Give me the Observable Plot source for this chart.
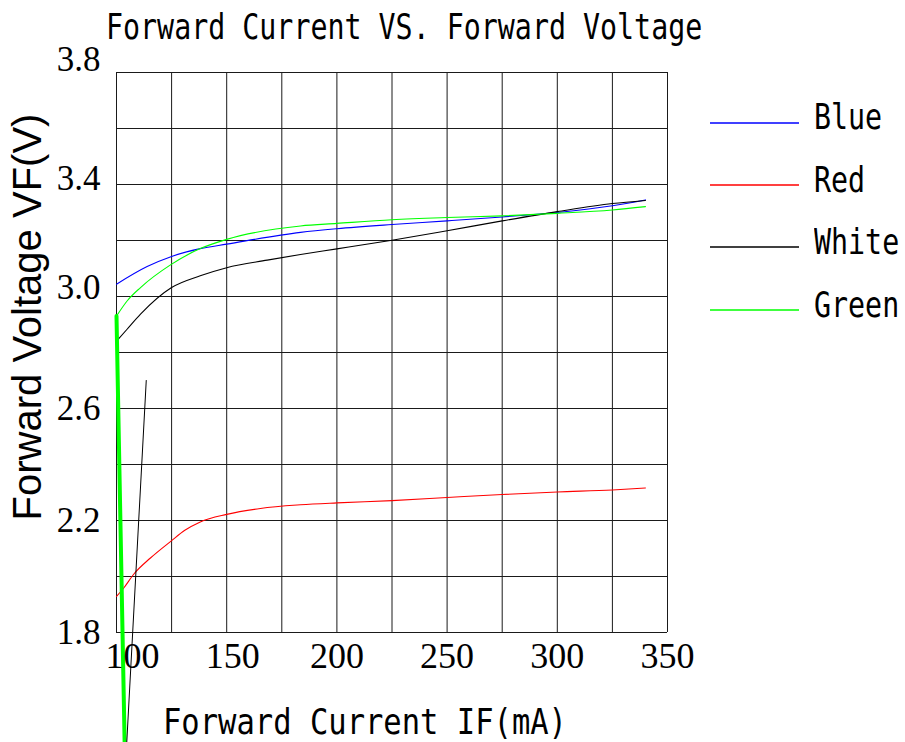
<!DOCTYPE html>
<html>
<head>
<meta charset="utf-8">
<script src="https://cdn.jsdelivr.net/npm/d3@7"></script>
<script src="https://cdn.jsdelivr.net/npm/@observablehq/plot@0.6"></script>
<style>
  body { margin: 0; background: #fff; }
  #wrap { position: relative; width: 905px; height: 742px; overflow: hidden; background: #fff; }
  #chart { position: absolute; left: 0; top: 0; }
  #legendSwatches { position: absolute; left: 0; top: 0; pointer-events: none; }
  .mono { position: absolute; font-family: "DejaVu Sans Mono", monospace; line-height: 1; white-space: nowrap; transform-origin: 0 0; color: #000; }
  .ylab { position: absolute; font-family: "Liberation Sans", Arial, sans-serif; font-size: 40px; line-height: 1; white-space: nowrap; color: #000; transform: translate(-50%, -50%) rotate(-90deg); }
</style>
</head>
<body>
<div id="wrap">
  <div id="chart"></div>
</div>
<script>
// ---- Data ----
const seriesNames = ["Blue", "Red", "White", "Green"];
const seriesColors = ["#0000ff", "#ff0000", "#000000", "#00ff00"];

const blueI = [100, 113.9, 125, 138, 150, 183.5, 200, 225, 250, 275, 300, 325, 340];
const blueV = [3.044, 3.107, 3.143, 3.171, 3.187, 3.229, 3.242, 3.257, 3.270, 3.284, 3.300, 3.324, 3.345];

const redI = [100, 103.3, 107.9, 115.4, 125, 131, 138, 150, 165.3, 183.5, 200, 225, 250, 275, 300, 325, 340];
const redV = [1.929, 1.959, 2.009, 2.066, 2.128, 2.165, 2.195, 2.222, 2.243, 2.256, 2.263, 2.271, 2.282, 2.293, 2.302, 2.309, 2.316];

const whiteI = [100, 104.8, 110.9, 125, 138, 150, 168.4, 183.5, 200, 225, 250, 275, 300, 325, 340];
const whiteV = [2.84, 2.883, 2.937, 3.032, 3.074, 3.103, 3.130, 3.150, 3.170, 3.201, 3.235, 3.270, 3.303, 3.332, 3.343];

const greenI = [100, 104.8, 110.9, 124.5, 138, 150, 183.5, 200, 225, 250, 275, 300, 325, 340];
const greenV = [2.93, 2.984, 3.032, 3.113, 3.171, 3.204, 3.252, 3.261, 3.274, 3.282, 3.288, 3.297, 3.309, 3.321];

// steep segments running below the frame
const greenStemI = [100, 103.7];
const greenStemV = [2.93, 1.40];
const strayI = [113.5, 104.6];
const strayV = [2.70, 1.40];

const xGrid = [100, 125, 150, 175, 200, 225, 250, 275, 300, 325, 350];
const yGrid = [1.8, 2.0, 2.2, 2.4, 2.6, 2.8, 3.0, 3.2, 3.4, 3.6, 3.8];
const xTickLabels = [100, 150, 200, 250, 300, 350];
const yTickLabels = [3.8, 3.4, 3.0, 2.6, 2.2, 1.8];

const titleText = "Forward Current VS. Forward Voltage";
const xLabelText = "Forward Current IF(mA)";
const yLabelText = "Forward Voltage VF(V)";

// ---- Build tables ----
const zip = (name, xs, ys) => xs.map((x, i) => ({series: name, I: x, V: ys[i]}));
const curves = [
  ...zip("Blue", blueI, blueV),
  ...zip("Red", redI, redV),
  ...zip("White", whiteI, whiteV),
  ...zip("Green", greenI, greenV)
];
const stem = zip("Green", greenStemI, greenStemV);
const stray = zip("White", strayI, strayV);

const fmt = d3.format(".1f");
const serif = "Liberation Serif, Times New Roman, serif";
const colorChannel = {value: "series", scale: "color"};

// per-label nudges seen in the reference
const xNudge = {100: 16, 150: 6};
const yNudge = {"3.8": -13, "3.4": -6, "3.0": -8.5};

const xLabelMarks = xTickLabels.map(t => Plot.text([t], {
  x: d => d, frameAnchor: "bottom", dy: 35, dx: xNudge[t] || 0,
  text: d => String(d), fontSize: 36, fontFamily: serif, fill: "#000"
}));
const yLabelMarks = yTickLabels.map(t => Plot.text([t], {
  y: d => d, frameAnchor: "left", dx: -16, dy: yNudge[fmt(t)] || 0, textAnchor: "end",
  text: d => fmt(d), fontSize: 35, fontFamily: serif, fill: "#000"
}));

const chart = Plot.plot({
  width: 905,
  height: 742,
  marginLeft: 116,
  marginRight: 238,
  marginTop: 72,
  marginBottom: 110,
  x: {domain: [100, 350], axis: null},
  y: {domain: [1.8, 3.8], axis: null},
  color: {type: "categorical", domain: seriesNames, range: seriesColors},
  style: {background: "transparent", overflow: "visible"},
  marks: [
    Plot.ruleX(xGrid, {x: d => d, stroke: "#1a1a1a", strokeWidth: 1}),
    Plot.ruleY(yGrid, {y: d => d, stroke: "#1a1a1a", strokeWidth: 1}),
    Plot.line(curves, {x: "I", y: "V", z: "series", stroke: colorChannel, strokeWidth: 1.1, curve: "monotone-x"}),
    Plot.line(stem, {x: "I", y: "V", stroke: colorChannel, strokeWidth: 4}),
    Plot.line(stray, {x: "I", y: "V", stroke: colorChannel, strokeWidth: 1}),
    ...xLabelMarks,
    ...yLabelMarks
  ]
});
document.getElementById("chart").appendChild(chart);

// ---- Text overlays: title, axis titles, legend ----
const wrap = document.getElementById("wrap");
function mono(text, left, top, size, sy) {
  const el = document.createElement("div");
  el.className = "mono";
  el.textContent = text;
  el.style.left = left + "px";
  el.style.top = top + "px";
  el.style.fontSize = size + "px";
  el.style.transform = `scaleY(${sy})`;
  wrap.appendChild(el);
}
mono(titleText, 106, 10, 28.3, 1.24);
mono(xLabelText, 163, 705, 30.5, 1.15);

const yl = document.createElement("div");
yl.className = "ylab";
yl.textContent = yLabelText;
yl.style.left = "27px";
yl.style.top = "317px";
wrap.appendChild(yl);

// legend: swatch lines in an overlay svg, labels in mono text
const legendLineY = [123, 185, 247, 310];
const legendTextTop = [100, 163, 225, 287.5];
const lsvg = d3.select(wrap).append("svg")
  .attr("id", "legendSwatches").attr("width", 905).attr("height", 742);
lsvg.selectAll("line").data(seriesNames).join("line")
  .attr("x1", 710).attr("x2", 799)
  .attr("y1", (d, i) => legendLineY[i]).attr("y2", (d, i) => legendLineY[i])
  .attr("stroke", (d, i) => seriesColors[i]).attr("stroke-width", 1.4);
seriesNames.forEach((name, i) => mono(name, 814, legendTextTop[i], 28.3, 1.28));
</script>
</body>
</html>
